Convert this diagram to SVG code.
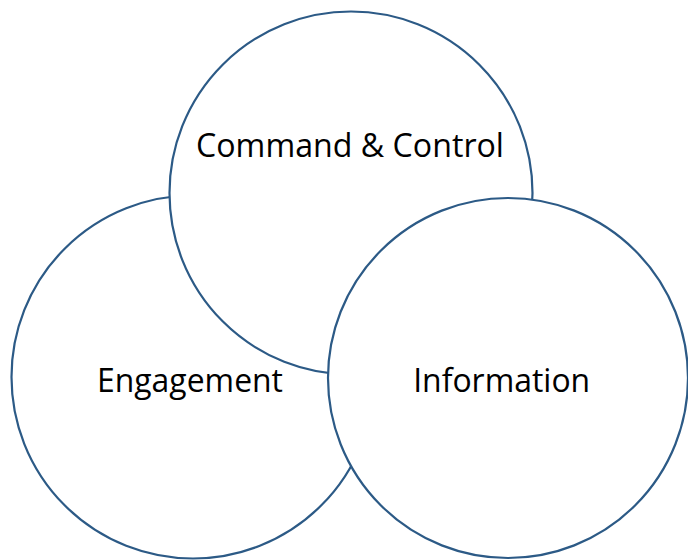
<svg xmlns="http://www.w3.org/2000/svg" width="688" height="560" viewBox="0 0 688 560">
<style>
.c{fill:#fff;stroke:#2C5A86;stroke-width:2.2}
.t{font-family:"Open Sans","Noto Sans","Liberation Sans",sans-serif;font-size:33.5px;fill:#000;text-anchor:middle}
</style>
<rect width="688" height="560" fill="#fff"/>
<g id="engagement">
<circle class="c" cx="193" cy="377" r="181.5"/>
<text class="t" x="190" y="392" textLength="186" lengthAdjust="spacingAndGlyphs">Engagement</text>
</g>
<g id="command-control">
<circle class="c" cx="351" cy="193" r="181.5"/>
<text class="t" x="350" y="157" textLength="308" lengthAdjust="spacingAndGlyphs">Command &amp; Control</text>
</g>
<g id="information">
<circle class="c" cx="508" cy="378" r="180"/>
<text class="t" x="501.7" y="392" textLength="177" lengthAdjust="spacingAndGlyphs">Information</text>
</g>
<g id="connectors"/>
</svg>
